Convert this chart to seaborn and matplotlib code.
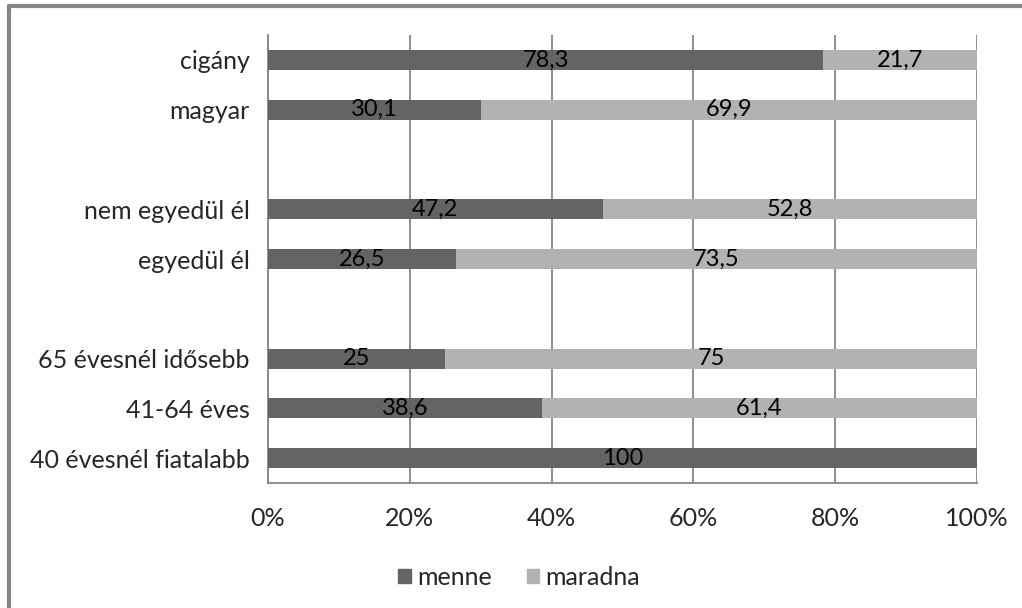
"""Stacked horizontal bar chart: menne / maradna shares by group."""

import matplotlib.pyplot as plt
import numpy as np
import pandas as pd
import seaborn as sns
from matplotlib.lines import Line2D

categories = [
    "cigány", "magyar", " ", "nem egyedül él", "egyedül él", "  ",
    "65 évesnél idősebb", "41-64 éves", "40 évesnél fiatalabb",
]
menne = [78.3, 30.1, 0, 47.2, 26.5, 0, 25, 38.6, 100]
maradna = [21.7, 69.9, 0, 52.8, 73.5, 0, 75, 61.4, 0]
menne_labels = ["78,3", "30,1", "", "47,2", "26,5", "", "25", "38,6", "100"]
maradna_labels = ["21,7", "69,9", "", "52,8", "73,5", "", "75", "61,4", ""]
xticks = [0, 20, 40, 60, 80, 100]
xtick_labels = ["0%", "20%", "40%", "60%", "80%", "100%"]

DARK = "#646464"
LIGHT = "#b2b2b2"
GRID = "#868686"
FS = 18
FS_LAB = 17

df = pd.DataFrame({"cat": categories, "menne": menne, "maradna": maradna})
df["total"] = df["menne"] + df["maradna"]

sns.set_style("white")
plt.rcParams["font.family"] = ["Lato", "DejaVu Sans"]

fig = plt.figure(figsize=(10.22, 6.08), dpi=100)
ax = fig.add_axes([0.2622, 0.2056, 0.6938, 0.7368])

sns.barplot(data=df, x="total", y="cat", order=categories, orient="h",
            color=LIGHT, saturation=1, width=0.4, linewidth=0, ax=ax,
            zorder=3)
sns.barplot(data=df, x="menne", y="cat", order=categories, orient="h",
            color=DARK, saturation=1, width=0.4, linewidth=0, ax=ax,
            zorder=3)

ax.bar_label(ax.containers[1], labels=menne_labels, label_type="center",
             fontsize=FS_LAB, color="black", zorder=4)
for i, (m, r, lab) in enumerate(zip(menne, maradna, maradna_labels)):
    if lab:
        ax.text(m + r / 2, i, lab, ha="center", va="center", fontsize=FS_LAB,
                color="black", zorder=4)

ax.set_xlim(0, 100)
ax.set_ylim(len(categories) - 0.5, -0.5)
ax.set_xticks(xticks)
ax.set_xticklabels(xtick_labels, fontsize=FS)
ax.xaxis.grid(True, color=GRID, linewidth=1.3, zorder=0)
ax.set_axisbelow(True)

ax.set_yticks(np.arange(-0.5, len(categories), 1))
ax.set_yticklabels([])
ax.set_yticks(np.arange(len(categories)), minor=True)
ax.set_yticklabels(categories, minor=True, fontsize=FS)
ax.tick_params(axis="y", which="major", length=8, color=GRID, width=1.3)
ax.tick_params(axis="y", which="minor", length=0, pad=13)
ax.tick_params(axis="x", length=8, color=GRID, width=1.3, pad=9)
ax.set_xlabel("")
ax.set_ylabel("")

for side in ["top", "right"]:
    ax.spines[side].set_visible(False)
for side in ["left", "bottom"]:
    ax.spines[side].set_color(GRID)
    ax.spines[side].set_linewidth(1.3)

handles = [
    plt.Rectangle((0, 0), 1, 1, color=DARK),
    plt.Rectangle((0, 0), 1, 1, color=LIGHT),
]
fig.legend(handles, ["menne", "maradna"], loc="center",
           bbox_to_anchor=(0.508, 0.05), ncol=2, frameon=False, fontsize=FS,
           handlelength=0.5, handleheight=0.5, handletextpad=0.25,
           columnspacing=1.4)

# outer chart frame (cut off at right and bottom)
fig.add_artist(Line2D([0.0085, 0.0085], [0, 0.99], color=GRID, linewidth=3,
                      transform=fig.transFigure))
fig.add_artist(Line2D([0.0085, 1], [0.99, 0.99], color=GRID, linewidth=3,
                      transform=fig.transFigure))

fig.savefig("out.png", dpi=100)
